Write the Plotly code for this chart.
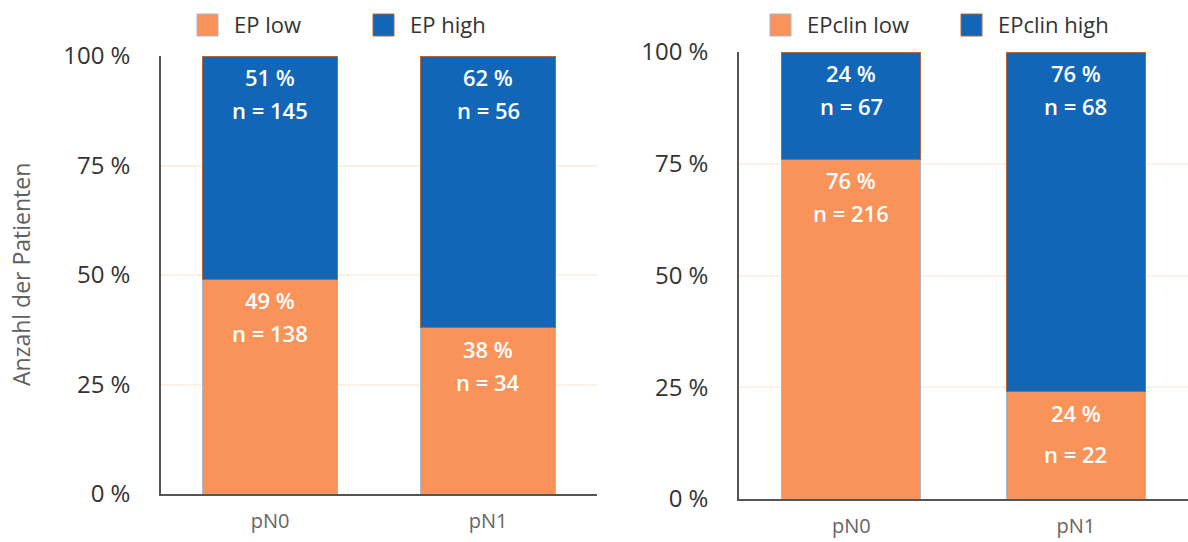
import plotly.graph_objects as go

# Lymph-node status categories
categories = ["pN0", "pN1"]

# Left panel: EP score
ep_low_pct = [49, 38]
ep_high_pct = [51, 62]
ep_low_n = [138, 34]
ep_high_n = [145, 56]

# Right panel: EPclin score
epclin_low_pct = [76, 24]
epclin_high_pct = [24, 76]
epclin_low_n = [216, 22]
epclin_high_n = [67, 68]

legend_left = ["EP low", "EP high"]
legend_right = ["EPclin low", "EPclin high"]

y_ticks = [0, 25, 50, 75, 100]
y_ticktext = [f"{v} %" for v in y_ticks]
y_title = "Anzahl der Patienten"

ORANGE = "#F9935A"
BLUE = "#1166B8"
ORANGE_EDGE = "#A9B6CC"
BLUE_EDGE = "#B0683A"
FONT = "Open Sans"

W, H = 1188, 542

fig = go.Figure()

panels = [
    dict(xa="x", ya="y", low=ep_low_pct, high=ep_high_pct,
         low_n=ep_low_n, high_n=ep_high_n, names=legend_left),
    dict(xa="x2", ya="y2", low=epclin_low_pct, high=epclin_high_pct,
         low_n=epclin_low_n, high_n=epclin_high_n, names=legend_right),
]

for p in panels:
    fig.add_trace(go.Bar(
        x=categories, y=p["low"], name=p["names"][0],
        xaxis=p["xa"], yaxis=p["ya"], width=0.62,
        marker=dict(color=ORANGE, line=dict(color=ORANGE_EDGE, width=1)),
        showlegend=False, hoverinfo="skip",
    ))
    fig.add_trace(go.Bar(
        x=categories, y=p["high"], name=p["names"][1],
        xaxis=p["xa"], yaxis=p["ya"], width=0.62,
        marker=dict(color=BLUE, line=dict(color=BLUE_EDGE, width=1)),
        showlegend=False, hoverinfo="skip",
    ))

# In-bar labels: percentage and count, hung just below each segment's top
label_font = dict(family=FONT, size=22, color="white", weight=600)
annotations = []
for p in panels:
    for i, cat in enumerate(categories):
        segs = [
            (p["low"][i], p["low"][i], p["low_n"][i]),
            (p["low"][i] + p["high"][i], p["high"][i], p["high_n"][i]),
        ]
        for top, pct, n in segs:
            n_shift = -62 if pct < 30 and top < 50 else -54
            annotations.append(dict(
                x=cat, y=top, xref=p["xa"], yref=p["ya"], text=f"{pct} %",
                showarrow=False, yshift=-21, font=label_font,
            ))
            annotations.append(dict(
                x=cat, y=top, xref=p["xa"], yref=p["ya"], text=f"n = {n}",
                showarrow=False, yshift=n_shift, font=label_font,
            ))

# Y-axis title for the left panel
annotations.append(dict(
    x=21 / W, y=1 - 275 / H, xref="paper", yref="paper", text=y_title,
    textangle=-90, showarrow=False, xanchor="center", yanchor="middle",
    font=dict(family=FONT, size=23, color="#5F5F5F"),
))

# Hand-drawn legends above each panel
shapes = []
legend_items = [
    (legend_left[0], ORANGE, ORANGE_EDGE, 197),
    (legend_left[1], BLUE, BLUE_EDGE, 373),
    (legend_right[0], ORANGE, ORANGE_EDGE, 770),
    (legend_right[1], BLUE, BLUE_EDGE, 961),
]
for text, fill, edge, x0 in legend_items:
    shapes.append(dict(
        type="rect", xref="paper", yref="paper",
        x0=x0 / W, x1=(x0 + 21) / W, y0=1 - 36 / H, y1=1 - 14 / H,
        fillcolor=fill, line=dict(color=edge, width=1),
    ))
    annotations.append(dict(
        x=(x0 + 35) / W, y=1 - 24 / H, xref="paper", yref="paper",
        text=text, showarrow=False, xanchor="left", yanchor="middle",
        font=dict(family=FONT, size=22, color="#333333"),
    ))

yaxis_common = dict(
    range=[0, 100], tickvals=y_ticks, ticktext=y_ticktext,
    showgrid=True, gridcolor="#FCF1E4", gridwidth=2, zeroline=False,
    showline=True, linecolor="#555555", linewidth=1.5, ticks="",
    ticklabelstandoff=24, automargin=False,
    tickfont=dict(family=FONT, size=24, color="#333333"),
)
xaxis_common = dict(
    showline=True, linecolor="#555555", linewidth=1.5, ticks="",
    showgrid=False, range=[-0.5, 1.5], ticklabelstandoff=8,
    automargin=False,
    tickfont=dict(family=FONT, size=20, color="#666666"),
)

fig.update_layout(
    width=W, height=H,
    margin=dict(l=0, r=0, t=0, b=0, autoexpand=False),
    paper_bgcolor="white", plot_bgcolor="white",
    barmode="stack", bargap=0.38,
    showlegend=False,
    xaxis=dict(domain=[161 / W, 597 / W], anchor="y", **xaxis_common),
    yaxis=dict(domain=[1 - 494 / H, 1 - 56 / H], anchor="x", **yaxis_common),
    xaxis2=dict(domain=[739 / W, 1.0], anchor="y2", **xaxis_common),
    yaxis2=dict(domain=[1 - 499 / H, 1 - 52 / H], anchor="x2", **yaxis_common),
    annotations=annotations,
    shapes=shapes,
)

fig.write_html("out.html")
